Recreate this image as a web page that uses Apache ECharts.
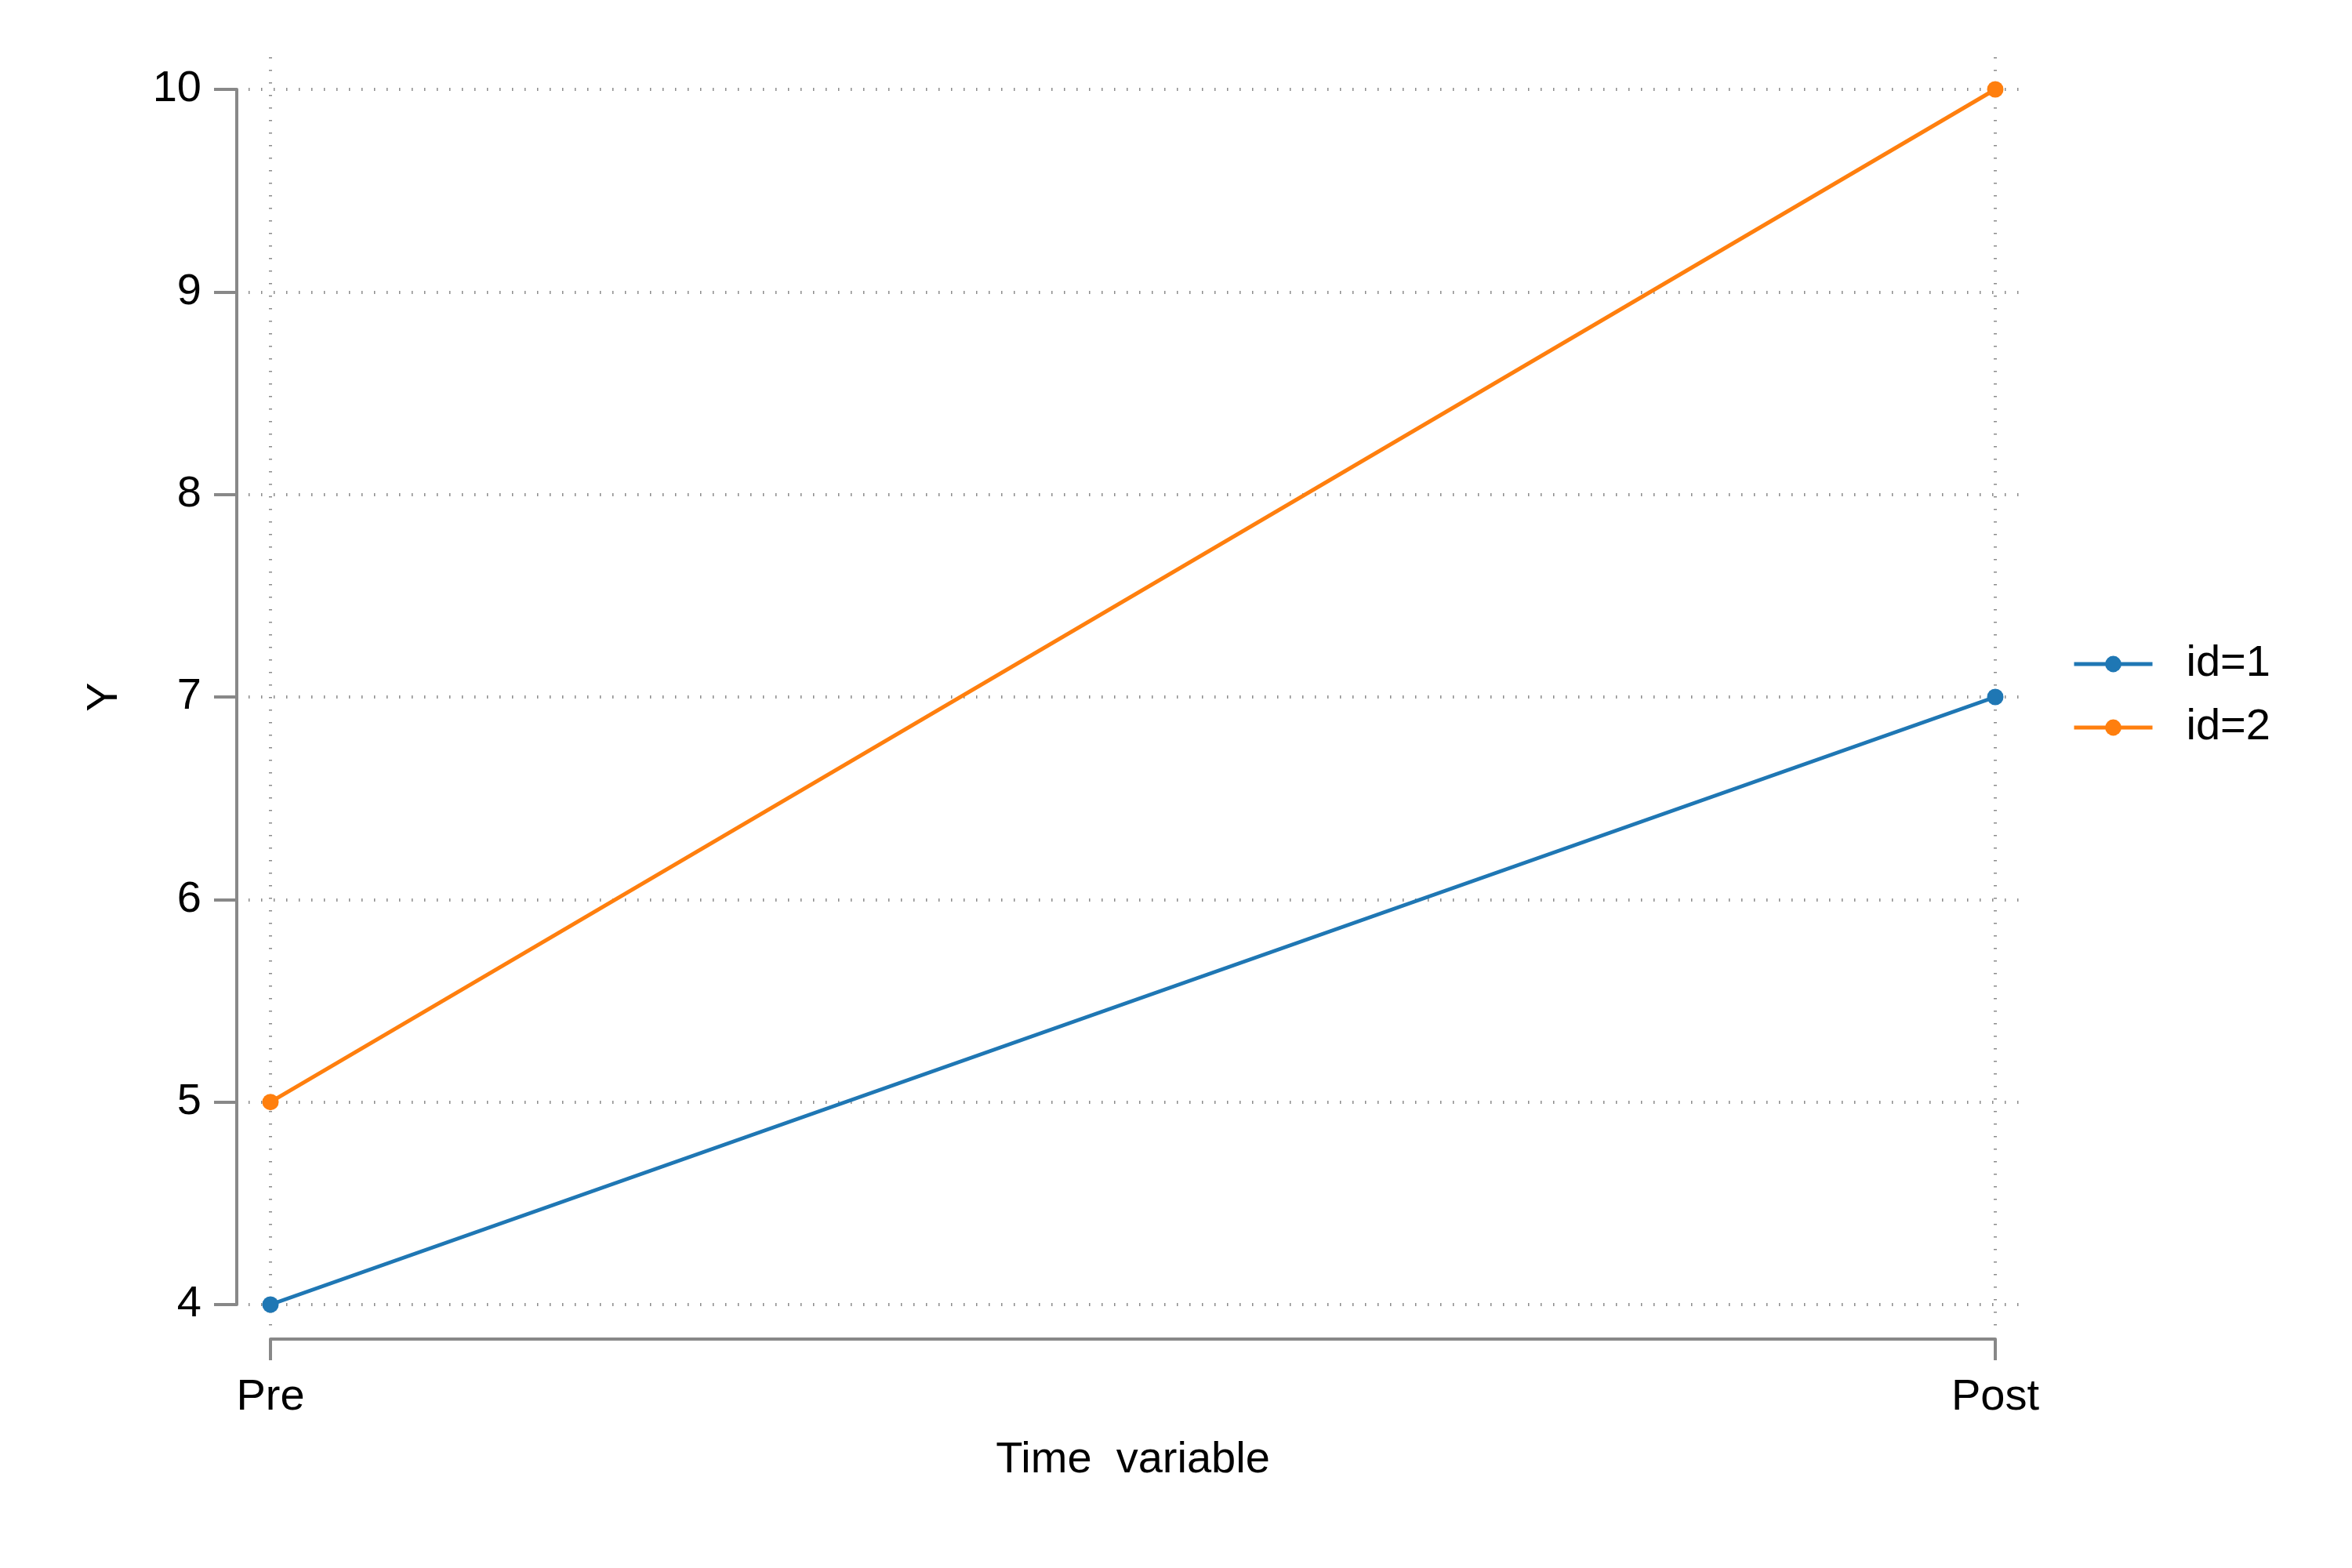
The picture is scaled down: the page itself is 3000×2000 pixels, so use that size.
<!DOCTYPE html>
<html>
<head>
<meta charset="utf-8">
<script src="https://cdn.jsdelivr.net/npm/echarts@6/dist/echarts.min.js"></script>
<style>
html,body{margin:0;padding:0;background:#fff;}
#chart{width:3000px;height:2000px;}
</style>
</head>
<body>
<div id="chart"></div>
<script>
const categories = ['Pre', 'Post'];
const seriesNames = ['id=1', 'id=2'];
const id1Values = [4, 7];
const id2Values = [5, 10];
const yTicks = [4, 5, 6, 7, 8, 9, 10];
const xGridValues = [0, 1];
const yMin = 4, yMax = 10;

const FONT = '"Liberation Sans Narrow", "Arial Narrow", "Liberation Sans", Arial, sans-serif';
const AX = '#888888';
const GRIDC = '#8c8c8c';
const colors = ['#1f77b4', '#ff7f0e'];

// main grid pixel box
const L = 345, R = 2545, T = 114, B = 1664;
// outer grid (for extended dotted gridlines)
const oL = 317, oR = 2576, oT = 73, oB = 1692;
const pxPerY = (B - T) / (yMax - yMin);
const pxPerX = (R - L) / (xGridValues[1] - xGridValues[0]);

const chart = echarts.init(document.getElementById('chart'), null, {renderer: 'canvas'});
const dotted = {show: true, lineStyle: {color: GRIDC, width: 4, type: [1.5, 14.5], cap: 'butt'}};

chart.setOption({
  backgroundColor: '#ffffff',
  animation: false,
  textStyle: {fontFamily: FONT},
  grid: [
    {left: L, right: 3000 - R, top: T, bottom: 2000 - B, containLabel: false},
    {left: oL, right: 3000 - oR, top: oT, bottom: 2000 - oB, containLabel: false}
  ],
  legend: {
    orient: 'vertical',
    left: 2638,
    top: 814,
    itemWidth: 100,
    itemHeight: 26,
    itemGap: 25,
    data: seriesNames,
    lineStyle: {width: 5},
    textStyle: {fontFamily: FONT, fontSize: 56, color: '#000', padding: [0, 0, 0, 38]}
  },
  xAxis: [
    {
      gridIndex: 0,
      type: 'category',
      data: categories,
      boundaryGap: false,
      offset: 44,
      name: 'Time  variable',
      nameLocation: 'middle',
      nameGap: 127,
      nameTextStyle: {fontFamily: FONT, fontSize: 56, color: '#000'},
      axisLine: {show: true, lineStyle: {color: AX, width: 4}},
      axisTick: {show: true, length: 27, alignWithLabel: true, lineStyle: {color: AX, width: 4}},
      axisLabel: {fontFamily: FONT, fontSize: 56, color: '#000', margin: 47},
      splitLine: {show: false}
    },
    {
      gridIndex: 1,
      type: 'value',
      min: xGridValues[0] - (L - oL) / pxPerX,
      max: xGridValues[1] + (oR - R) / pxPerX,
      axisLine: {show: false},
      axisTick: {show: false, customValues: xGridValues},
      axisLabel: {show: false, customValues: xGridValues},
      splitLine: dotted
    }
  ],
  yAxis: [
    {
      gridIndex: 0,
      type: 'value',
      min: yMin,
      max: yMax,
      interval: 1,
      offset: 43,
      name: 'Y',
      nameLocation: 'middle',
      nameGap: 140,
      nameRotate: 90,
      nameTextStyle: {fontFamily: FONT, fontSize: 56, color: '#000'},
      axisLine: {show: true, lineStyle: {color: AX, width: 4}},
      axisTick: {show: true, length: 29, lineStyle: {color: AX, width: 4}},
      axisLabel: {fontFamily: FONT, fontSize: 56, color: '#000', margin: 45},
      splitLine: {show: false}
    },
    {
      gridIndex: 1,
      type: 'value',
      min: yMin - (oB - B) / pxPerY,
      max: yMax + (T - oT) / pxPerY,
      axisLine: {show: false},
      axisTick: {show: false, customValues: yTicks},
      axisLabel: {show: false, customValues: yTicks},
      splitLine: dotted
    }
  ],
  series: [
    {
      name: seriesNames[0],
      type: 'line',
      xAxisIndex: 0, yAxisIndex: 0,
      data: id1Values,
      color: colors[0],
      symbol: 'circle',
      symbolSize: 21,
      lineStyle: {width: 5, color: colors[0]},
      itemStyle: {color: colors[0]},
      z: 5
    },
    {
      name: seriesNames[1],
      type: 'line',
      xAxisIndex: 0, yAxisIndex: 0,
      data: id2Values,
      color: colors[1],
      symbol: 'circle',
      symbolSize: 21,
      lineStyle: {width: 5, color: colors[1]},
      itemStyle: {color: colors[1]},
      z: 5
    }
  ]
});
</script>
</body>
</html>
